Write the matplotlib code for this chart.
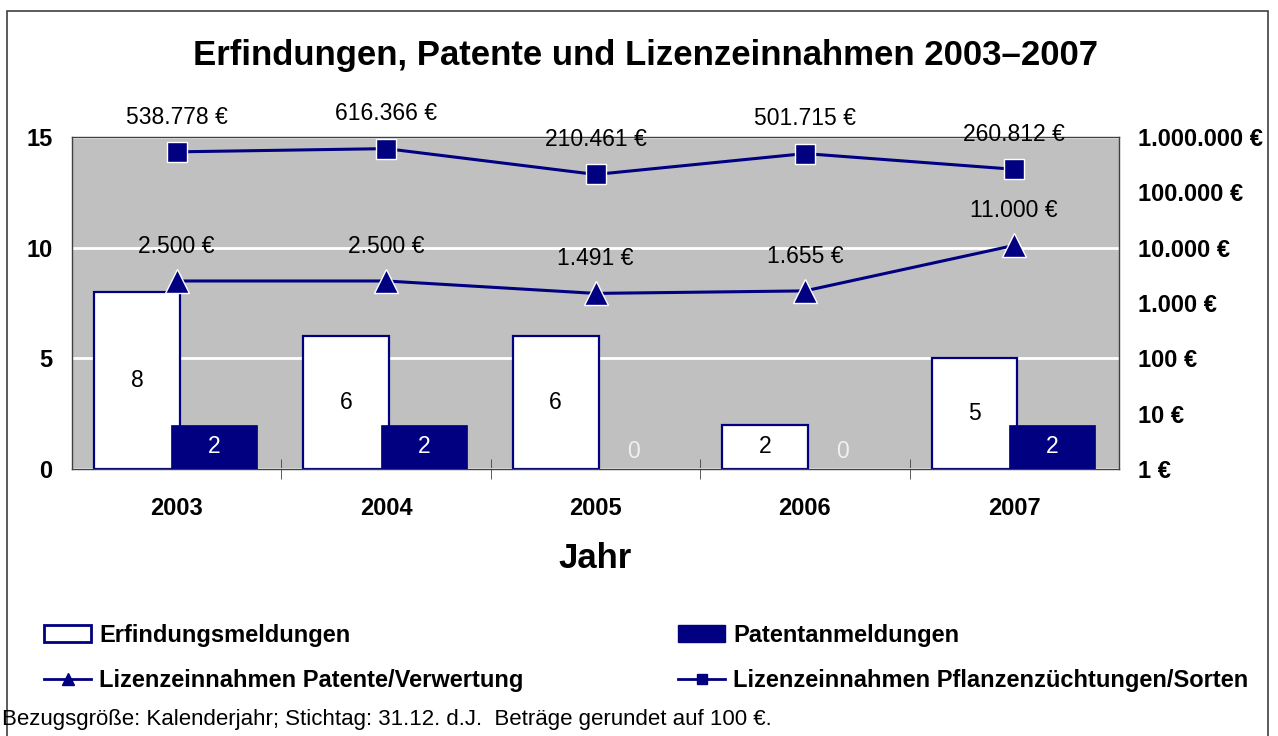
import numpy as np
import matplotlib.pyplot as plt
from matplotlib.patches import Patch, Rectangle
from matplotlib.lines import Line2D
from matplotlib.ticker import FixedLocator, FuncFormatter

plt.rcParams['font.family'] = ['Liberation Sans', 'DejaVu Sans']

jahre = ['2003', '2004', '2005', '2006', '2007']
erfindungen = [8, 6, 6, 2, 5]
patente = [2, 2, 0, 0, 2]
liz_patente = [2500, 2500, 1491, 1655, 11000]
liz_pflanzen = [538778, 616366, 210461, 501715, 260812]

navy = '#000080'
grau = '#c0c0c0'


def euro(v):
    return '{:,.0f} €'.format(v).replace(',', '.')


W, H = 1278, 736
fig = plt.figure(figsize=(W / 100, H / 100), dpi=100)
fig.patches.append(Rectangle((7 / W, -0.01), 1261 / W, 1 - 11 / H + 0.01,
                             transform=fig.transFigure, fill=False,
                             edgecolor='#404040', lw=1.2, zorder=0))

ax = fig.add_axes([72 / W, 1 - 469 / H, (1119 - 72) / W, (469 - 137) / H])
ax.set_facecolor(grau)
x = np.arange(len(jahre))
bw = 0.41

ax.bar(x - 0.19, erfindungen, bw, color='white', edgecolor=navy, lw=1.6, zorder=2)
ax.bar(x + 0.18, patente, bw, color=navy, edgecolor=navy, lw=0.5, zorder=3)

for xi, v in zip(x, erfindungen):
    ax.text(xi - 0.19, v / 2, str(v), ha='center', va='center', fontsize=16.5, color='black', zorder=5)
for xi, v in zip(x, patente):
    ax.text(xi + 0.18, v / 2 if v > 0 else 0.8, str(v), ha='center', va='center',
            fontsize=16.5, color='white' if v > 0 else '#f0f0f0', zorder=5)

ax.set_xlim(-0.5, len(jahre) - 0.5)
ax.set_ylim(0, 15)
ax.set_yticks([0, 5, 10, 15])
ax.yaxis.grid(True, color='white', lw=2)
ax.set_axisbelow(True)
ax.tick_params(axis='y', length=0, pad=14, labelsize=17)
for lab in ax.get_yticklabels():
    lab.set_fontweight('bold')

ax.set_xticks(x)
ax.set_xticklabels(jahre, fontsize=17, fontweight='bold')
ax.xaxis.set_minor_locator(FixedLocator(np.arange(0.5, len(jahre) - 0.5, 1.0)))
ax.tick_params(axis='x', which='major', length=0, pad=20)
ax.tick_params(axis='x', which='minor', length=14, direction='inout', color='#404040')
ax.set_xlabel('Jahr', fontsize=25, fontweight='bold', labelpad=16)
for s in ax.spines.values():
    s.set_color('#404040')
    s.set_linewidth(1)

ax2 = ax.twinx()
ax2.set_yscale('log')
ax2.set_ylim(1, 1e6)
ax2.yaxis.set_major_locator(FixedLocator([10 ** k for k in range(7)]))
ax2.yaxis.set_minor_locator(FixedLocator([]))
ax2.yaxis.set_major_formatter(FuncFormatter(lambda v, p: euro(v)))
ax2.tick_params(axis='y', length=0, pad=14, labelsize=17)
for lab in ax2.get_yticklabels():
    lab.set_fontweight('bold')
for s in ax2.spines.values():
    s.set_visible(False)

ax2.plot(x, liz_patente, color=navy, lw=2.2, marker='^', ms=17,
         markerfacecolor=navy, markeredgecolor='white', markeredgewidth=1, zorder=4)
ax2.plot(x, liz_pflanzen, color=navy, lw=2.2, marker='s', ms=15,
         markerfacecolor=navy, markeredgecolor='white', markeredgewidth=1, zorder=4)
for xi, v in zip(x, liz_patente):
    ax2.annotate(euro(v), (xi, v), xytext=(0, 25), textcoords='offset points',
                 ha='center', va='center', fontsize=16.5)
for xi, v in zip(x, liz_pflanzen):
    ax2.annotate(euro(v), (xi, v), xytext=(0, 25), textcoords='offset points',
                 ha='center', va='center', fontsize=16.5, annotation_clip=False)

fig.text(0.505, 1 - 56 / H, 'Erfindungen, Patente und Lizenzeinnahmen 2003–2007',
         ha='center', va='center', fontsize=25, fontweight='bold')

h_erf = Patch(facecolor='white', edgecolor=navy, lw=2)
h_pat = Patch(facecolor=navy, edgecolor=navy)
h_lp = Line2D([], [], color=navy, lw=2, marker='^', ms=8, markerfacecolor=navy, markeredgecolor=navy)
h_ls = Line2D([], [], color=navy, lw=2, marker='s', ms=7, markerfacecolor=navy, markeredgecolor=navy)

leg_kw = dict(frameon=False, handlelength=2.0, handletextpad=0.35, labelspacing=0.95,
              prop={'size': 17, 'weight': 'bold'}, borderaxespad=0, borderpad=0)
fig.legend([h_erf, h_lp], ['Erfindungsmeldungen', 'Lizenzeinnahmen Patente/Verwertung'],
           loc='upper left', bbox_to_anchor=(44 / W, 1 - 624 / H), **leg_kw)
fig.legend([h_pat, h_ls], ['Patentanmeldungen', 'Lizenzeinnahmen Pflanzenzüchtungen/Sorten'],
           loc='upper left', bbox_to_anchor=(678 / W, 1 - 624 / H), **leg_kw)

fig.text(2 / W, 1 - 720 / H,
         'Bezugsgröße: Kalenderjahr; Stichtag: 31.12. d.J.  Beträge gerundet auf 100 €.',
         ha='left', va='center', fontsize=16)

fig.savefig('out.png', dpi=100)
